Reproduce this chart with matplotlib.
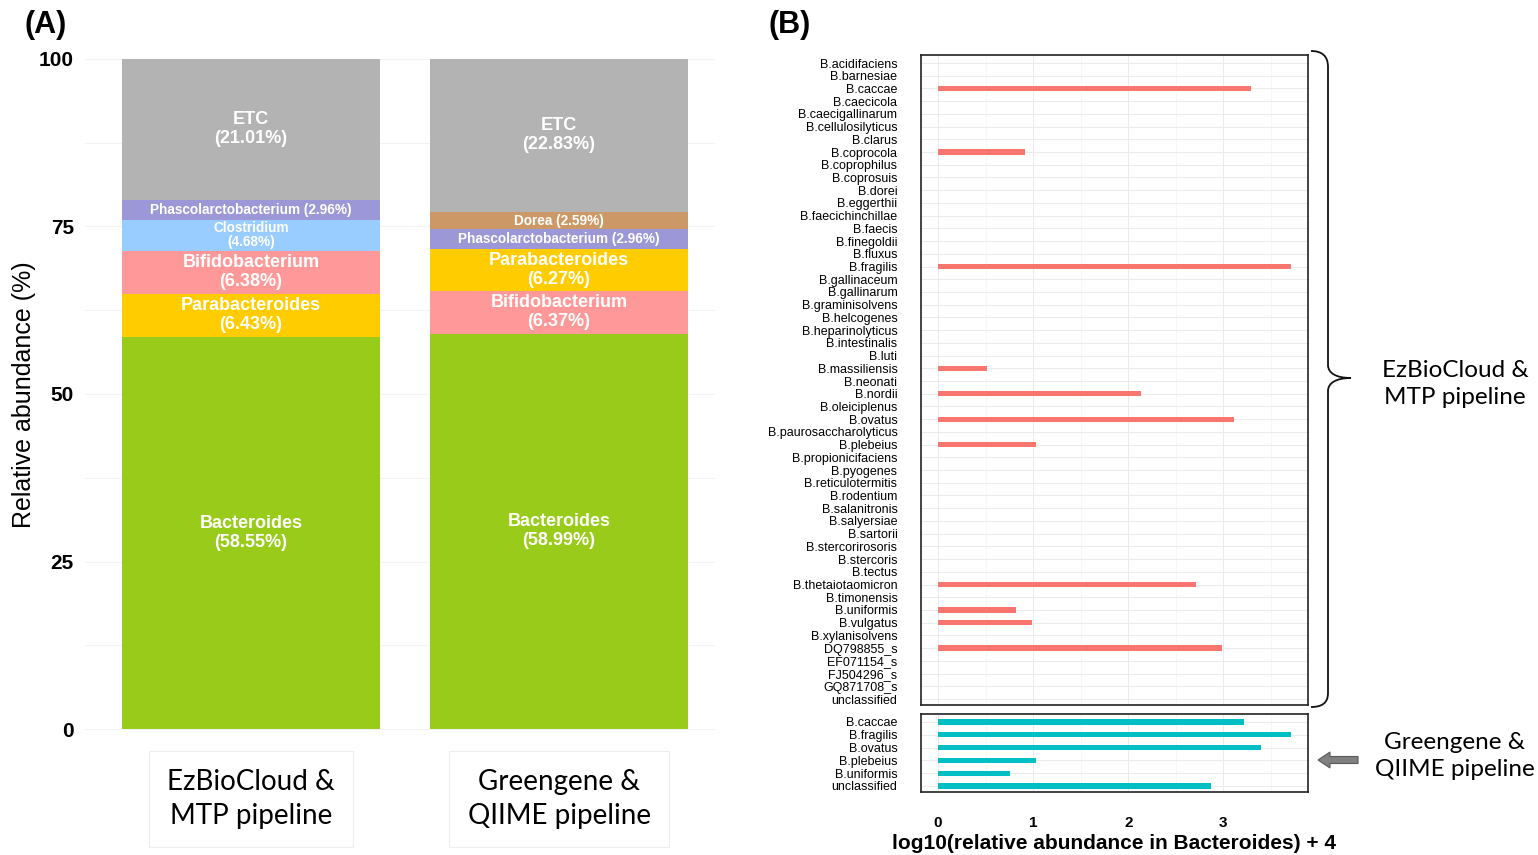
import numpy as np
import matplotlib.pyplot as plt
from matplotlib.path import Path
from matplotlib.patches import PathPatch, FancyArrow

plt.rcParams['font.family'] = ['Liberation Sans', 'DejaVu Sans']

# ---- (A) genus composition, bottom -> top ----
pipelines = ['EzBioCloud &\nMTP pipeline', 'Greengene &\nQIIME pipeline']
taxa_ez = ['Bacteroides', 'Parabacteroides', 'Bifidobacterium', 'Clostridium',
           'Phascolarctobacterium', 'ETC']
pct_ez = [58.55, 6.43, 6.38, 4.68, 2.96, 21.01]
taxa_gq = ['Bacteroides', 'Bifidobacterium', 'Parabacteroides',
           'Phascolarctobacterium', 'Dorea', 'ETC']
pct_gq = [58.99, 6.37, 6.27, 2.96, 2.59, 22.83]

genus_colors = {
    'Bacteroides': '#99CC1A',
    'Parabacteroides': '#FFCC00',
    'Bifidobacterium': '#FF9999',
    'Clostridium': '#99CCFF',
    'Phascolarctobacterium': '#9C97D6',
    'Dorea': '#CC9966',
    'ETC': '#B3B3B3',
}

# ---- (B) log10(relative abundance in Bacteroides) + 4 ----
species_ez = ['B.acidifaciens', 'B.barnesiae', 'B.caccae', 'B.caecicola',
              'B.caecigallinarum', 'B.cellulosilyticus', 'B.clarus', 'B.coprocola',
              'B.coprophilus', 'B.coprosuis', 'B.dorei', 'B.eggerthii',
              'B.faecichinchillae', 'B.faecis', 'B.finegoldii', 'B.fluxus',
              'B.fragilis', 'B.gallinaceum', 'B.gallinarum', 'B.graminisolvens',
              'B.helcogenes', 'B.heparinolyticus', 'B.intestinalis', 'B.luti',
              'B.massiliensis', 'B.neonati', 'B.nordii', 'B.oleiciplenus',
              'B.ovatus', 'B.paurosaccharolyticus', 'B.plebeius',
              'B.propionicifaciens', 'B.pyogenes', 'B.reticulotermitis',
              'B.rodentium', 'B.salanitronis', 'B.salyersiae', 'B.sartorii',
              'B.stercorirosoris', 'B.stercoris', 'B.tectus', 'B.thetaiotaomicron',
              'B.timonensis', 'B.uniformis', 'B.vulgatus', 'B.xylanisolvens',
              'DQ798855_s', 'EF071154_s', 'FJ504296_s', 'GQ871708_s', 'unclassified']
detected_ez = {'B.caccae': 3.29, 'B.coprocola': 0.91, 'B.fragilis': 3.71,
               'B.massiliensis': 0.51, 'B.nordii': 2.13, 'B.ovatus': 3.11,
               'B.plebeius': 1.03, 'B.thetaiotaomicron': 2.71, 'B.uniformis': 0.82,
               'B.vulgatus': 0.99, 'DQ798855_s': 2.99}
species_gq = ['B.caccae', 'B.fragilis', 'B.ovatus', 'B.plebeius', 'B.uniformis',
              'unclassified']
values_gq = [3.22, 3.71, 3.40, 1.03, 0.76, 2.87]

W, H = 1538, 855
fig = plt.figure(figsize=(W / 100, H / 100), dpi=100)


def px_axes(x0, y0, x1, y1):
    # axes from pixel box (top-left origin)
    return fig.add_axes([x0 / W, 1 - y1 / H, (x1 - x0) / W, (y1 - y0) / H])


# ================= panel A =================
axA = px_axes(85, 50, 715, 740)
bar_w = 0.838
for xi, (taxa, pct) in enumerate([(taxa_ez, pct_ez), (taxa_gq, pct_gq)]):
    bottom = 0.0
    for name, v in zip(taxa, pct):
        axA.bar(xi, v, bottom=bottom, width=bar_w, color=genus_colors[name],
                linewidth=0, zorder=2)
        yc = bottom + v / 2
        if v < 4:
            axA.text(xi, yc, '{} ({:.2f}%)'.format(name, v), ha='center', va='center',
                     color='white', fontsize=9.8, fontweight='bold', zorder=3)
        elif v < 5:
            axA.text(xi, yc, '{}\n({:.2f}%)'.format(name, v), ha='center', va='center',
                     color='white', fontsize=9.8, fontweight='bold', linespacing=1.0,
                     zorder=3)
        else:
            axA.text(xi, yc, '{}\n({:.2f}%)'.format(name, v), ha='center', va='center',
                     color='white', fontsize=13, fontweight='bold', linespacing=1.15,
                     zorder=3)
        bottom += v

axA.set_xlim(-0.539, 1.506)
axA.set_ylim(-1.64, 101.34)
axA.set_yticks([0, 25, 50, 75, 100])
axA.set_yticks([12.5, 37.5, 62.5, 87.5], minor=True)
axA.grid(True, which='both', axis='y', color='#f3f3f3', linewidth=0.8, zorder=0)
axA.set_yticklabels(['0', '25', '50', '75', '100'], fontsize=15, fontweight='bold')
axA.tick_params(axis='y', which='both', length=0, pad=8)
axA.set_xticks([0, 1])
axA.set_xticklabels(pipelines, fontsize=20, family='Lato', linespacing=1.35)
axA.tick_params(axis='x', length=0, pad=21)
for t in axA.get_xticklabels():
    t.set_bbox(dict(facecolor='none', edgecolor='#eeeeee', linewidth=0.8, pad=13))
for s in axA.spines.values():
    s.set_visible(False)
axA.set_ylabel('Relative abundance (%)', fontsize=18)
axA.yaxis.set_label_coords(-0.078, 0.5)


# ================= panel B =================
def style_b(ax, labels):
    ax.set_xlim(-0.18, 3.89)
    ax.set_xticks([0, 1, 2, 3])
    ax.set_xticks([0.5, 1.5, 2.5, 3.5], minor=True)
    ax.set_yticks(np.arange(len(labels)))
    ax.set_yticklabels(labels, fontsize=9)
    ax.grid(True, which='major', color='#ebebeb', linewidth=0.7, zorder=0)
    ax.grid(True, which='minor', axis='x', color='#f4f4f4', linewidth=0.5, zorder=0)
    ax.tick_params(axis='both', which='both', length=0)
    ax.tick_params(axis='y', pad=17)
    for s in ax.spines.values():
        s.set_color('#222222')
        s.set_linewidth(1.2)


axB1 = px_axes(921, 55, 1308, 705)
vals_ez = [detected_ez.get(sp, 0.0) for sp in species_ez]
axB1.barh(np.arange(len(species_ez)), vals_ez, height=0.42, color='#F8766D', zorder=2)
style_b(axB1, species_ez)
axB1.set_ylim(50.47, -0.63)
axB1.set_xticklabels([])

axB2 = px_axes(921, 714, 1308, 792)
axB2.barh(np.arange(len(species_gq)), values_gq, height=0.42, color='#00BFC4', zorder=2)
style_b(axB2, species_gq)
axB2.set_ylim(5.47, -0.625)
axB2.set_xticklabels(['0', '1', '2', '3'], fontsize=11, fontweight='bold')
axB2.tick_params(axis='x', pad=17)
axB2.set_xlabel('log10(relative abundance in Bacteroides) + 4', fontsize=15,
                fontweight='bold', labelpad=3)

# ================= annotations (pixel overlay) =================
ov = fig.add_axes([0, 0, 1, 1], zorder=10)
ov.set_xlim(0, W)
ov.set_ylim(H, 0)
ov.axis('off')

ov.text(46, 25, '(A)', ha='center', va='center', fontsize=22, fontweight='bold')
ov.text(790, 25, '(B)', ha='center', va='center', fontsize=22, fontweight='bold')

# curly brace spanning the EzBioCloud panel
verts = [(1311, 51), (1322, 51), (1328, 56), (1328, 67),
         (1328, 365),
         (1328, 373), (1336, 378), (1351, 378),
         (1336, 378), (1328, 383), (1328, 391),
         (1328, 693),
         (1328, 703), (1322, 707), (1311, 707)]
codes = [Path.MOVETO, Path.CURVE4, Path.CURVE4, Path.CURVE4,
         Path.LINETO,
         Path.CURVE4, Path.CURVE4, Path.CURVE4,
         Path.CURVE4, Path.CURVE4, Path.CURVE4,
         Path.LINETO,
         Path.CURVE4, Path.CURVE4, Path.CURVE4]
ov.add_patch(PathPatch(Path(verts, codes), facecolor='none', edgecolor='#111111',
                       linewidth=1.3))

ov.add_patch(FancyArrow(1358, 760, -28, 0, width=7, head_width=16, head_length=12,
                        length_includes_head=False, facecolor='#808080',
                        edgecolor='#5a5a5a', linewidth=0.8))

ov.text(1455, 384, 'EzBioCloud &\nMTP pipeline', ha='center', va='center',
        fontsize=17.5, family='Lato', linespacing=1.3)
ov.text(1455, 756, 'Greengene &\nQIIME pipeline', ha='center', va='center',
        fontsize=17.5, family='Lato', linespacing=1.3)

fig.savefig('out.png', dpi=100)
